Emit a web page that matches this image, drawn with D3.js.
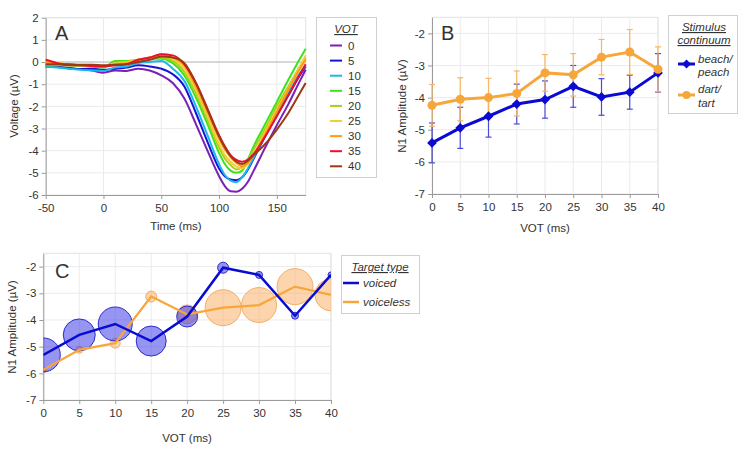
<!DOCTYPE html>
<html><head><meta charset="utf-8">
<script src="https://cdn.jsdelivr.net/npm/d3@7"></script>
<style>body{margin:0;background:#fff} svg{display:block} text{font-family:"Liberation Sans",Arial,sans-serif;fill:#333}</style>
</head><body><svg id="c" width="745" height="449"></svg>
<script>
// ---------- Panel A data ----------
const timeMs = [-50,-40,-30,-20,-10,0,10,20,30,40,50,60,70,80,90,100,105,110,115,120,125,130,140,150,160,170,175];
const votLevels = ["0","5","10","15","20","25","30","35","40"];
const votColors = ["#7a1fb8","#1414d6","#19b8ec","#3ee21a","#a6d11a","#f5cc3a","#ff9a10","#ec1030","#9b3a12"];
const wave0  = [-0.14,-0.2,-0.27,-0.32,-0.38,-0.48,-0.38,-0.4,-0.3,-0.38,-0.6,-0.95,-1.65,-2.8,-4.0,-5.15,-5.6,-5.83,-5.85,-5.72,-5.4,-4.9,-3.85,-2.85,-1.9,-0.85,-0.35];
const wave5  = [-0.2,-0.22,-0.28,-0.32,-0.3,-0.35,-0.3,-0.25,-0.15,-0.2,-0.3,-0.55,-1.1,-2.3,-3.6,-4.8,-5.15,-5.3,-5.33,-5.2,-4.85,-4.35,-3.35,-2.4,-1.5,-0.6,-0.2];
const wave10 = [-0.2,-0.25,-0.3,-0.35,-0.38,-0.4,-0.25,-0.2,-0.05,0.0,0.05,-0.3,-0.85,-2.0,-3.3,-4.6,-5.1,-5.35,-5.42,-5.2,-4.8,-4.3,-3.3,-2.3,-1.4,-0.5,-0.15];
const wave15 = [-0.15,-0.15,-0.15,-0.18,-0.2,-0.25,0.05,0.05,0.1,0.15,0.15,-0.05,-0.6,-1.6,-2.8,-4.1,-4.6,-4.9,-5.0,-4.9,-4.4,-3.8,-2.8,-1.8,-0.8,0.15,0.6];
const wave20 = [-0.1,-0.12,-0.15,-0.15,-0.15,-0.2,-0.05,0.0,0.08,0.15,0.2,0.05,-0.45,-1.4,-2.6,-3.85,-4.35,-4.65,-4.85,-4.75,-4.4,-3.95,-3.0,-2.0,-1.1,-0.2,0.2];
const wave25 = [0.0,-0.05,-0.1,-0.15,-0.15,-0.2,-0.05,0.0,0.1,0.2,0.3,0.15,-0.3,-1.25,-2.45,-3.7,-4.2,-4.5,-4.72,-4.8,-4.6,-4.15,-3.15,-2.15,-1.2,-0.2,0.3];
const wave30 = [0.0,-0.05,-0.1,-0.15,-0.15,-0.2,-0.1,-0.05,0.1,0.2,0.35,0.2,-0.15,-1.1,-2.25,-3.45,-3.95,-4.3,-4.55,-4.7,-4.55,-4.2,-3.25,-2.25,-1.25,-0.3,0.1];
const wave35 = [0.1,-0.05,-0.15,-0.15,-0.18,-0.2,-0.15,-0.1,0.1,0.2,0.35,0.3,-0.1,-0.95,-2.1,-3.3,-3.8,-4.2,-4.42,-4.5,-4.4,-4.15,-3.35,-2.45,-1.5,-0.55,-0.1];
const wave40 = [-0.1,-0.1,-0.1,-0.12,-0.12,-0.15,-0.12,-0.1,0.0,0.1,0.25,0.2,-0.05,-0.95,-2.15,-3.35,-3.85,-4.25,-4.5,-4.6,-4.45,-4.2,-3.7,-3.05,-2.3,-1.4,-0.95];
const waves = [wave0,wave5,wave10,wave15,wave20,wave25,wave30,wave35,wave40];
const aXTicks = [-50,0,50,100,150];
const aYTicks = [-6,-5,-4,-3,-2,-1,0,1,2];

// ---------- Panel B data ----------
const vot = [0,5,10,15,20,25,30,35,40];
const n1Beach = [-5.41,-4.94,-4.58,-4.2,-4.06,-3.65,-3.98,-3.83,-3.23];
const errBeach = [0.62,0.64,0.65,0.62,0.58,0.65,0.57,0.53,0.6];
const n1Dart = [-4.24,-4.05,-4.0,-3.87,-3.23,-3.29,-2.74,-2.58,-3.12];
const errDart = [0.65,0.67,0.6,0.7,0.57,0.66,0.55,0.7,0.7];
const bcYTicks = [-7,-6,-5,-4,-3,-2];

// ---------- Panel C data ----------
const cVoiced = [-5.31,-4.56,-4.15,-4.79,-3.87,-2.04,-2.31,-3.84,-2.31];
const cVoiceless = [-5.87,-5.12,-4.87,-3.12,-3.79,-3.54,-3.44,-2.75,-3.06];
const sizeVoiced = [17,16,17,15,10.5,5.5,3.5,3.5,3];
const sizeVoiceless = [3,3.5,5,5.5,9.5,18,17.5,18,16];

const BLUE = "#0a0ad2", ORANGE = "#f7a73a";
const svg = d3.select("#c");
svg.append("rect").attr("width",745).attr("height",449).attr("fill","#fff");
const fmt = d => String(d);

function frame(g, x, y, xTicks, yTicks) {
  const [x0,x1] = x.range(), [yb,yt] = y.range();
  g.append("g").selectAll("line").data(yTicks).join("line")
    .attr("x1",x0).attr("x2",x1).attr("y1",d=>y(d)).attr("y2",d=>y(d)).attr("stroke","#ebebeb");
  g.append("g").selectAll("line").data(xTicks).join("line")
    .attr("y1",yb).attr("y2",yt).attr("x1",d=>x(d)).attr("x2",d=>x(d)).attr("stroke","#ebebeb");
  g.append("line").attr("x1",x0).attr("x2",x1).attr("y1",yt).attr("y2",yt).attr("stroke","#e2e2e2");
  g.append("line").attr("x1",x1).attr("x2",x1).attr("y1",yt).attr("y2",yb).attr("stroke","#e2e2e2");
  const ay = g.append("g").attr("transform",`translate(${x0},0)`)
    .call(d3.axisLeft(y).tickValues(yTicks).tickSize(4).tickSizeOuter(0).tickPadding(3).tickFormat(fmt));
  const ax = g.append("g").attr("transform",`translate(0,${yb})`)
    .call(d3.axisBottom(x).tickValues(xTicks).tickSize(4).tickSizeOuter(0).tickPadding(5).tickFormat(fmt));
  [ax,ay].forEach(a => {
    a.select(".domain").attr("stroke","#9a9a9a");
    a.selectAll(".tick line").attr("stroke","#9a9a9a");
    a.selectAll(".tick text").attr("font-size",11.5).attr("fill","#333").attr("font-family","Liberation Sans, Arial, sans-serif");
  });
}
function label(txt, x, y, opts={}) {
  const t = svg.append("text").attr("x",x).attr("y",y).text(txt)
    .attr("font-size",opts.size||11.5).attr("text-anchor",opts.anchor||"middle");
  if (opts.rotate) t.attr("transform",`rotate(-90,${x},${y})`);
  if (opts.italic) t.attr("font-style","italic");
  if (opts.underline) t.attr("text-decoration","underline");
  return t;
}

// ================= Panel A =================
const xA = d3.scaleLinear().domain([-50,175]).range([45.7,305.7]);
const yA = d3.scaleLinear().domain([-6,2]).range([195,17.7]);
const gA = svg.append("g");
frame(gA, xA, yA, aXTicks, aYTicks);
gA.append("line").attr("x1",xA(-50)).attr("x2",xA(175)).attr("y1",yA(0)).attr("y2",yA(0)).attr("stroke","#b8b8b8");
const lineA = d3.line().x((d,i)=>xA(timeMs[i])).y(d=>yA(d)).curve(d3.curveMonotoneX);
waves.forEach((w,k) => {
  gA.append("path").attr("d",lineA(w)).attr("fill","none").attr("stroke",votColors[k]).attr("stroke-width",2);
});
label("A", 55, 40, {size:20, anchor:"start"}).attr("fill","#111");
label("Voltage (µV)", 18, 106, {rotate:true});
label("Time (ms)", 176, 230);
// legend A
const lgA = svg.append("g");
lgA.append("rect").attr("x",316.5).attr("y",17.5).attr("width",60).attr("height",160).attr("fill","#fff").attr("stroke","#d0d0d0");
label("VOT", 346, 33, {italic:true, underline:true});
votLevels.forEach((v,k) => {
  const yy = 45.5 + k*15.1;
  lgA.append("line").attr("x1",330).attr("x2",342).attr("y1",yy).attr("y2",yy).attr("stroke",votColors[k]).attr("stroke-width",2);
  lgA.append("text").attr("x",348).attr("y",yy+4).attr("font-size",11.5).text(v);
});

// ================= Panel B =================
const xB = d3.scaleLinear().domain([0,40]).range([432,658]);
const yB = d3.scaleLinear().domain([-7,-1.5]).range([194,17.3]);
const gB = svg.append("g");
frame(gB, xB, yB, vot, bcYTicks);
function errBars(vals, errs, color) {
  const g = gB.append("g").attr("stroke",color).attr("stroke-width",1.2);
  vals.forEach((v,i) => {
    const cx = xB(vot[i]);
    g.append("line").attr("x1",cx).attr("x2",cx).attr("y1",yB(v-errs[i])).attr("y2",yB(v+errs[i]));
    [v-errs[i], v+errs[i]].forEach(e => g.append("line").attr("x1",cx-3).attr("x2",cx+3).attr("y1",yB(e)).attr("y2",yB(e)));
  });
}
errBars(n1Beach, errBeach, "#4b4bd8");
errBars(n1Dart, errDart, "#f6b665");
const lineB = d3.line().x((d,i)=>xB(vot[i])).y(d=>yB(d));
gB.append("path").attr("d",lineB(n1Beach)).attr("fill","none").attr("stroke",BLUE).attr("stroke-width",3);
gB.selectAll(".dm").data(n1Beach).join("path").attr("class","dm")
  .attr("d",d3.symbol(d3.symbolSquare,48)())
  .attr("transform",(d,i)=>`translate(${xB(vot[i])},${yB(d)}) rotate(45)`).attr("fill",BLUE);
gB.append("path").attr("d",lineB(n1Dart)).attr("fill","none").attr("stroke",ORANGE).attr("stroke-width",3);
gB.selectAll(".dc").data(n1Dart).join("circle").attr("class","dc")
  .attr("cx",(d,i)=>xB(vot[i])).attr("cy",d=>yB(d)).attr("r",4.5).attr("fill",ORANGE);
label("B", 441, 40, {size:20, anchor:"start"}).attr("fill","#111");
label("N1 Amplitude (µV)", 406, 106, {rotate:true});
label("VOT (ms)", 545, 232);
// legend B
const lgB = svg.append("g");
lgB.append("rect").attr("x",668.5).attr("y",15.5).attr("width",69).attr("height",98).attr("fill","#fff").attr("stroke","#d0d0d0");
label("Stimulus", 704, 31, {italic:true, underline:true});
label("continuum", 704, 44, {italic:true, underline:true});
lgB.append("line").attr("x1",678).attr("x2",695).attr("y1",64).attr("y2",64).attr("stroke",BLUE).attr("stroke-width",3);
lgB.append("path").attr("d",d3.symbol(d3.symbolSquare,40)()).attr("transform","translate(686.5,64) rotate(45)").attr("fill",BLUE);
lgB.append("line").attr("x1",678).attr("x2",695).attr("y1",95).attr("y2",95).attr("stroke",ORANGE).attr("stroke-width",3);
lgB.append("circle").attr("cx",686.5).attr("cy",95).attr("r",4).attr("fill",ORANGE);
[["beach/",63],["peach",76],["dart/",93],["tart",107]].forEach(([t,yy]) =>
  label(t, 698, yy, {italic:true, anchor:"start"}));

// ================= Panel C =================
const xC = d3.scaleLinear().domain([0,40]).range([43.3,331]);
const yC = d3.scaleLinear().domain([-7,-1.5]).range([400,253.3]);
const rC = d3.scaleLinear().domain([0,20]).range([0,20]);
const gC = svg.append("g");
frame(gC, xC, yC, vot, bcYTicks);
svg.append("clipPath").attr("id","clipC").append("rect")
  .attr("x",xC(0)).attr("y",yC(-1.5)).attr("width",xC(40)-xC(0)).attr("height",yC(-7)-yC(-1.5));
const bub = gC.append("g").attr("clip-path","url(#clipC)");
bub.selectAll(".bo").data(cVoiceless).join("circle").attr("class","bo")
  .attr("cx",(d,i)=>xC(vot[i])).attr("cy",d=>yC(d)).attr("r",(d,i)=>rC(sizeVoiceless[i]))
  .attr("fill","rgba(250,172,100,0.52)").attr("stroke","rgba(240,160,80,0.8)").attr("stroke-width",1);
bub.selectAll(".bb").data(cVoiced).join("circle").attr("class","bb")
  .attr("cx",(d,i)=>xC(vot[i])).attr("cy",d=>yC(d)).attr("r",(d,i)=>rC(sizeVoiced[i]))
  .attr("fill","rgba(45,45,230,0.5)").attr("stroke","rgba(20,20,200,0.85)").attr("stroke-width",1);
const lineC = d3.line().x((d,i)=>xC(vot[i])).y(d=>yC(d));
bub.append("path").attr("d",lineC(cVoiceless)).attr("fill","none").attr("stroke",ORANGE).attr("stroke-width",2.2);
bub.append("path").attr("d",lineC(cVoiced)).attr("fill","none").attr("stroke",BLUE).attr("stroke-width",2.5);
label("C", 55, 278, {size:20, anchor:"start"}).attr("fill","#111");
label("N1 Amplitude (µV)", 16, 327, {rotate:true});
label("VOT (ms)", 187, 442);
// legend C
const lgC = svg.append("g");
lgC.append("rect").attr("x",341.5).attr("y",255.5).attr("width",78).attr("height",58).attr("fill","#fff").attr("stroke","#d0d0d0");
label("Target type", 380, 271, {italic:true, underline:true});
lgC.append("line").attr("x1",343).attr("x2",359).attr("y1",283).attr("y2",283).attr("stroke",BLUE).attr("stroke-width",2.5);
lgC.append("line").attr("x1",343).attr("x2",359).attr("y1",302).attr("y2",302).attr("stroke",ORANGE).attr("stroke-width",2.5);
label("voiced", 363, 287, {italic:true, anchor:"start"});
label("voiceless", 363, 306, {italic:true, anchor:"start"});
</script></body></html>
